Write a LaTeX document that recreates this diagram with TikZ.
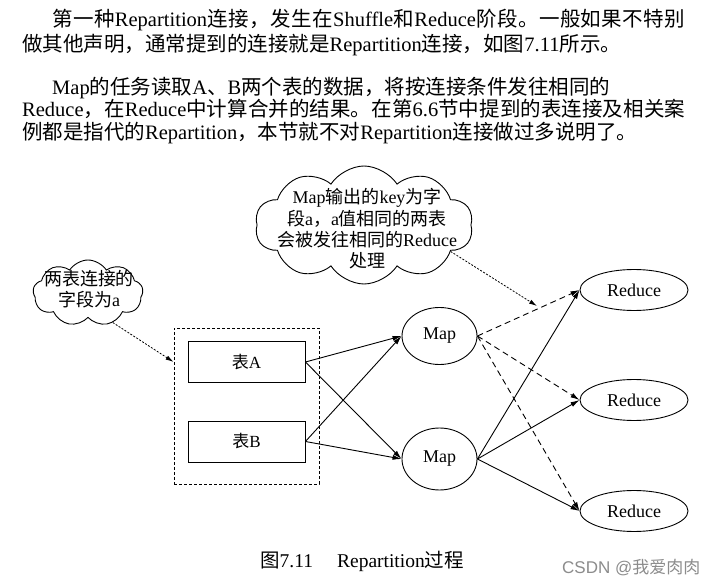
\documentclass[tikz,border=0pt]{standalone}
\usepackage{fontspec}
\setmainfont{Liberation Serif}
\newfontfamily\cjk{Noto Sans CJK SC}
\newfontfamily\marksans{Liberation Sans}
\usetikzlibrary{shapes.geometric, shapes.symbols, arrows.meta}

% Chinese characters switch to the CJK font by themselves
\XeTeXinterchartokenstate=1
\newXeTeXintercharclass\hanclass
\newcount\hancount
\newcommand{\hanrange}[2]{%
    \hancount=#1\relax
    \loop
        \XeTeXcharclass\hancount=\hanclass
    \ifnum\hancount<#2\relax
        \advance\hancount by 1
    \repeat}
\hanrange{"3000}{"303F}
\hanrange{"4E00}{"9FFF}
\hanrange{"FF00}{"FFEF}
\XeTeXinterchartoks 0 \hanclass = {\hskip0pt plus 1pt\cjk}
\XeTeXinterchartoks 4095 \hanclass = {\cjk}
\XeTeXinterchartoks \hanclass 0 = {\hskip0pt plus 1pt\rmfamily}
\XeTeXinterchartoks \hanclass 4095 = {\rmfamily}
\XeTeXinterchartoks \hanclass \hanclass = {\hskip0pt plus 1pt}

\begin{document}
\begin{tikzpicture}[x=1pt, y=-1pt,
    every node/.style={inner sep=0pt},
    txtline/.style={anchor=base west, font=\fontsize{20.5}{24}\selectfont},
    cloudshape/.style={draw, line width=0.9pt, cloud, cloud puffs=10, cloud puff arc=115, cloud ignores aspect},
    cloudtext/.style={align=center, font=\fontsize{18}{21.3}\selectfont},
    tabstyle/.style={draw, line width=0.9pt, minimum width=117pt, minimum height=41pt, font=\fontsize{17}{20}\selectfont},
    mapstyle/.style={draw, ellipse, line width=0.9pt, minimum width=75pt, font=\fontsize{18}{21}\selectfont},
    redstyle/.style={draw, ellipse, line width=0.9pt, minimum width=108pt, minimum height=41pt, font=\fontsize{18}{21}\selectfont},
    solidarrow/.style={line width=0.9pt, -{Latex[length=9pt, width=5pt]}},
    dasharrow/.style={solidarrow, dash pattern=on 6pt off 4pt},
    dotarrow/.style={line width=0.8pt, dash pattern=on 2pt off 1.5pt, -{Latex[length=8pt, width=4.5pt]}}
]
    \path[fill=white] (0, 0) rectangle (713, 585); % page

    % text above the figure
    \node[txtline] (lineA) at (52, 27) {\hbox to 633pt{第一种Repartition连接，发生在Shuffle和Reduce阶段。一般如果不特别}};
    \node[txtline] (lineB) at (22, 52) {做其他声明，通常提到的连接就是Repartition连接，如图7.11所示。};
    \node[txtline] (lineC) at (52, 95) {Map的任务读取A、B两个表的数据，将按连接条件发往相同的};
    \node[txtline] (lineD) at (22, 117) {\hbox to 663pt{Reduce，在Reduce中计算合并的结果。在第6.6节中提到的表连接及相关案}};
    \node[txtline] (lineE) at (22, 140) {例都是指代的Repartition，本节就不对Repartition连接做过多说明了。};

    % clouds
    \node[cloudshape, minimum width=218pt, minimum height=118pt] (keycloud) at (364, 225) {};
    \node[cloudtext] (keytext) at (367, 229) {Map输出的key为字\\段a，a值相同的两表\\会被发往相同的Reduce\\处理};
    \node[cloudshape, cloud puffs=9, minimum width=110pt, minimum height=66pt] (fieldcloud) at (88, 293) {};
    \node[cloudtext] (fieldtext) at (89, 289) {两表连接的\\字段为a};

    % tables
    \node[draw, line width=0.8pt, dash pattern=on 3pt off 2pt, minimum width=145pt, minimum height=156pt] (tables) at (246.5, 406) {};
    \node[tabstyle] (taba) at (246.5, 362) {表A};
    \node[tabstyle] (tabb) at (246.5, 441.5) {表B};

    % map and reduce
    \node[mapstyle, minimum height=57pt] (mapa) at (439.5, 336) {Map};
    \node[mapstyle, minimum height=62pt] (mapb) at (439.5, 459) {Map};
    \node[redstyle] (reda) at (634, 290) {Reduce};
    \node[redstyle] (redb) at (634, 400) {Reduce};
    \node[redstyle] (redc) at (634, 511) {Reduce};

    \draw[solidarrow] (taba.east) -- (mapa.west);
    \draw[solidarrow] (taba.east) -- (mapb.west);
    \draw[solidarrow] (tabb.east) -- (mapa.west);
    \draw[solidarrow] (tabb.east) -- (mapb.west);

    \draw[dasharrow] (mapa.east) -- (reda.west);
    \draw[dasharrow] (mapa.east) -- (redb.west);
    \draw[dasharrow] (mapa.east) -- (redc.west);
    \draw[solidarrow] (mapb.east) -- (reda.west);
    \draw[solidarrow] (mapb.east) -- (redb.west);
    \draw[solidarrow] (mapb.east) -- (redc.west);

    % cloud pointers
    \coordinate (keytip) at (537, 306);
    \draw[dotarrow] (keycloud.-17) -- (keytip);
    \draw[dotarrow] (fieldcloud.-50) -- (tables.west |- taba);

    % caption
    \node[txtline, font=\fontsize{19.5}{23}\selectfont] (caption) at (260, 567) {图7.11\hspace{24pt}Repartition过程};
    \node[anchor=base west, font=\marksans\fontsize{17}{20}\selectfont, text=black!45] (mark) at (562, 573) {CSDN @我爱肉肉};
\end{tikzpicture}
\end{document}
